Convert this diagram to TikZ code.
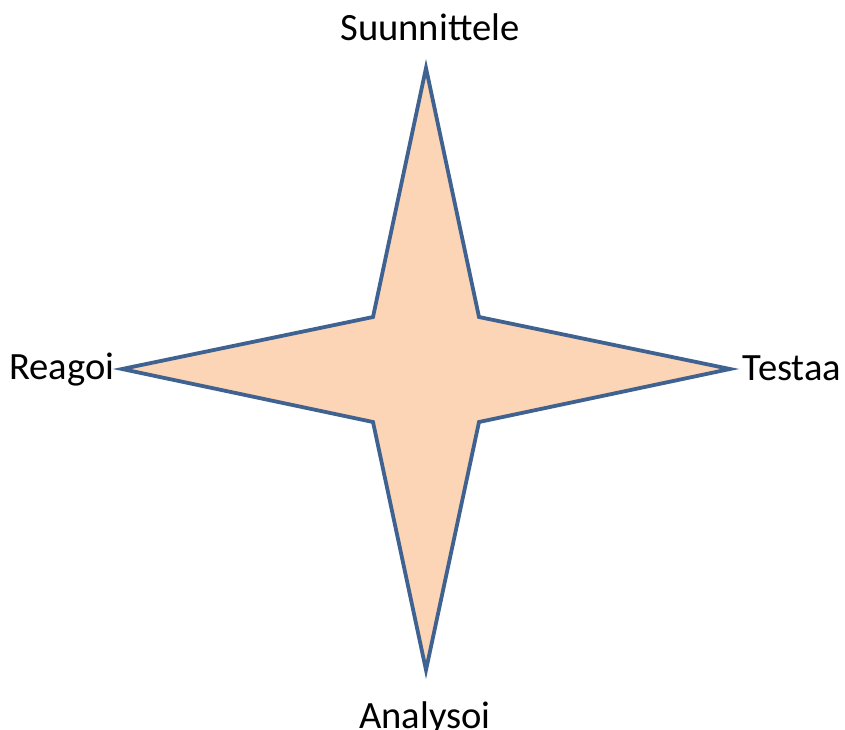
\documentclass[tikz,border=0pt]{standalone}
\usepackage{fontspec}
\setmainfont{Carlito}
\usepackage{tikz}

\begin{document}
\begin{tikzpicture}[x=1pt,y=-1pt,line join=miter,
    star/.style={fill={rgb,255:red,251;green,213;blue,181},
      draw={rgb,255:red,63;green,98;blue,145},line width=3.8pt},
    phase/.style={anchor=base,inner sep=0pt,
      font=\fontsize{38.6}{42}\selectfont}]
    \useasboundingbox (0,0) rectangle (845,729);

    % The four-pointed star.
    \draw[star] (426,68) -- (479,317) -- (730,369) -- (479,422)
      -- (426,670) -- (373,422) -- (122,369) -- (373,317) -- cycle;

    % The phases at its tips.
    \node[phase] (suunnittele) at (430,40) {Suunnittele};
    \node[phase] (testaa)      at (792,380) {Testaa};
    \node[phase] (analysoi)    at (425,728) {Analysoi};
    \node[phase] (reagoi)      at (62,379) {Reagoi};
  \end{tikzpicture}
\end{document}
